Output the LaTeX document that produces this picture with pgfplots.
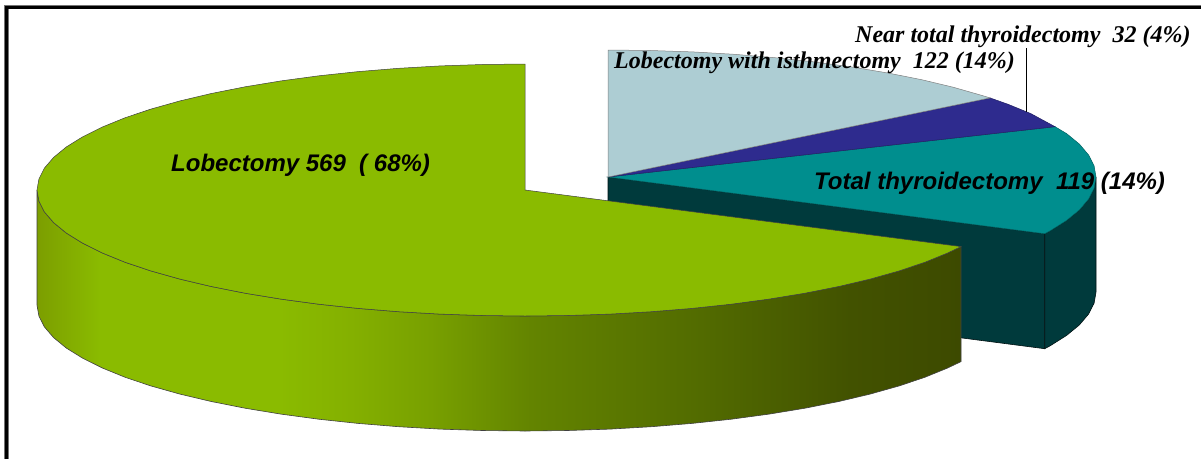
\documentclass[border=0pt]{standalone}
\usepackage{pgfplots}
\pgfplotsset{compat=1.18}
\usepackage{fontspec}
\setmainfont{Liberation Sans}
\newfontfamily\seriffont{Liberation Serif}

\definecolor{lobetop}{HTML}{8ABB00}
\definecolor{teal}{HTML}{008E8E}
\definecolor{tealdark}{HTML}{003A3C}
\definecolor{navy}{HTML}{2E2B8E}
\definecolor{paleblue}{HTML}{ADCDD3}
\definecolor{rimA}{HTML}{7C9E00}
\definecolor{rimB}{HTML}{84B000}
\definecolor{rimC}{HTML}{78A000}
\definecolor{rimD}{HTML}{638400}
\definecolor{rimE}{HTML}{526B00}
\definecolor{rimF}{HTML}{425200}
\definecolor{rimG}{HTML}{3D4A00}

% Rim of the largest slice: lit on the left, falling to dark olive on the right.
\pgfdeclarehorizontalshading{lobeside}{100bp}{
  color(0bp)=(rimA);
  color(25bp)=(rimA);
  color(28.4bp)=(lobetop);
  color(38.1bp)=(lobetop);
  color(42bp)=(rimB);
  color(46.3bp)=(rimC);
  color(51.7bp)=(rimD);
  color(60.9bp)=(rimE);
  color(69bp)=(rimF);
  color(75bp)=(rimG);
  color(100bp)=(rimG)}

\begin{document}
\begin{tikzpicture}
\begin{axis}[
  hide axis, scale only axis, width=1201pt, height=459pt,
  xmin=0, xmax=1201, ymin=0, ymax=459, y dir=reverse,
  clip=true, no markers]

% keeps the page at the full plotting area
\path (axis cs:0,0) rectangle (axis cs:1201,459);

% frame, open on the right and at the bottom
\addplot[draw=black!55, line width=4.4pt] coordinates {(6.5,459) (6.5,7) (1201,7)};
\addplot[draw=black, line width=3pt] coordinates {(6.5,459) (6.5,7) (1201,7)};

% Total thyroidectomy: cut face and rim
\addplot[fill=tealdark, draw=black!70!tealdark, line width=0.6pt] coordinates
  {(608,177) (1044.7,233.7) (1044.7,348.7) (608,292)} --cycle;
\addplot[fill=tealdark, draw=black!70!tealdark, line width=0.6pt] coordinates
  {(1096,177) (1094.1,188.1) (1088.6,199) (1079.4,209.9) (1066.6,220.4) (1050.3,230.7) (1044.7,233.7)
   (1044.7,348.7) (1050.3,345.7) (1066.6,335.4) (1079.4,324.9) (1088.6,314) (1094.1,303.1) (1096,292)} --cycle;

% Total thyroidectomy: top
\addplot[fill=teal, draw=teal!70!black, line width=0.5pt] coordinates
  {(608,177) (1055,126.7) (1066.6,133.6) (1079.4,144.1) (1088.6,155) (1094.1,165.9) (1096,177)
   (1094.1,188.1) (1088.6,199) (1079.4,209.9) (1066.6,220.4) (1050.3,230.7) (1044.7,233.7)} --cycle;

% Near total thyroidectomy
\addplot[fill=navy, draw=navy!70!black, line width=0.5pt] coordinates
  {(608,177) (990,97.9) (1007.8,104.2) (1030.6,113.5) (1055,126.7)} --cycle;

% Lobectomy with isthmectomy
\addplot[fill=paleblue, draw=black!50, line width=0.5pt] coordinates
  {(608,177) (608,50) (650.6,50.5) (692.7,51.9) (734.3,54.3) (774.9,57.7) (814.2,61.9) (852,67)
   (887.9,73) (921.7,79.7) (953.1,87.2) (981.8,95.4) (990,97.9)} --cycle;

% Lobectomy: rim
\addplot[shading=lobeside, draw=black!75, line width=0.6pt] coordinates
  {(37,190) (38.9,201) (44.4,211.9) (53.6,222.6) (66.4,233.1) (82.7,243.2) (102.4,253) (125.2,262.3)
   (151.2,271) (180,279.1) (211.3,286.5) (245.1,293.2) (281,299.1) (318.8,304.2) (358.1,308.4)
   (398.7,311.7) (440.3,314.1) (482.4,315.5) (525,316) (567.6,315.5) (609.7,314.1) (651.3,311.7)
   (691.9,308.4) (731.2,304.2) (769,299.1) (804.9,293.2) (838.7,286.5) (870,279.1) (898.8,271)
   (924.8,262.3) (947.6,253) (961,246.6)
   (961,361.6) (947.6,368) (924.8,377.3) (898.8,386) (870,394.1) (838.7,401.5) (804.9,408.2)
   (769,414.1) (731.2,419.2) (691.9,423.4) (651.3,426.7) (609.7,429.1) (567.6,430.5) (525,431)
   (482.4,430.5) (440.3,429.1) (398.7,426.7) (358.1,423.4) (318.8,419.2) (281,414.1) (245.1,408.2)
   (211.3,401.5) (180,394.1) (151.2,386) (125.2,377.3) (102.4,368) (82.7,358.2) (66.4,348.1)
   (53.6,337.6) (44.4,326.9) (38.9,316) (37,305)} --cycle;

% Lobectomy: top
\addplot[fill=lobetop, draw=black!75, line width=0.5pt] coordinates
  {(525,190) (525,64) (482.4,64.5) (440.3,65.9) (398.7,68.3) (358.1,71.6) (318.8,75.8) (281,80.9)
   (245.1,86.8) (211.3,93.5) (180,100.9) (151.2,109) (125.2,117.7) (102.4,127) (82.7,136.8)
   (66.4,146.9) (53.6,157.4) (44.4,168.1) (38.9,179) (37,190) (38.9,201) (44.4,211.9) (53.6,222.6)
   (66.4,233.1) (82.7,243.2) (102.4,253) (125.2,262.3) (151.2,271) (180,279.1) (211.3,286.5)
   (245.1,293.2) (281,299.1) (318.8,304.2) (358.1,308.4) (398.7,311.7) (440.3,314.1) (482.4,315.5)
   (525,316) (567.6,315.5) (609.7,314.1) (651.3,311.7) (691.9,308.4) (731.2,304.2) (769,299.1)
   (804.9,293.2) (838.7,286.5) (870,279.1) (898.8,271) (924.8,262.3) (947.6,253) (961,246.6)} --cycle;

% leader line of the small slice
\addplot[draw=black, line width=0.8pt] coordinates {(1026,48) (1026,112)};

\node[anchor=base west, inner sep=0pt] at (axis cs:171,171)
  {\fontsize{24}{24}\selectfont\bfseries\itshape Lobectomy 569\ \ ( 68\%)};
\node[anchor=base west, inner sep=0pt] at (axis cs:814,189)
  {\fontsize{24}{24}\selectfont\bfseries\itshape Total thyroidectomy\ \ 119 (14\%)};
\node[anchor=base west, inner sep=0pt] at (axis cs:855,42)
  {\seriffont\fontsize{24}{24}\selectfont\bfseries\itshape Near total thyroidectomy\ \ 32 (4\%)};
\node[anchor=base west, inner sep=0pt] at (axis cs:614,68)
  {\seriffont\fontsize{24}{24}\selectfont\bfseries\itshape Lobectomy with isthmectomy\ \ 122 (14\%)};
\end{axis}
\end{tikzpicture}
\end{document}
